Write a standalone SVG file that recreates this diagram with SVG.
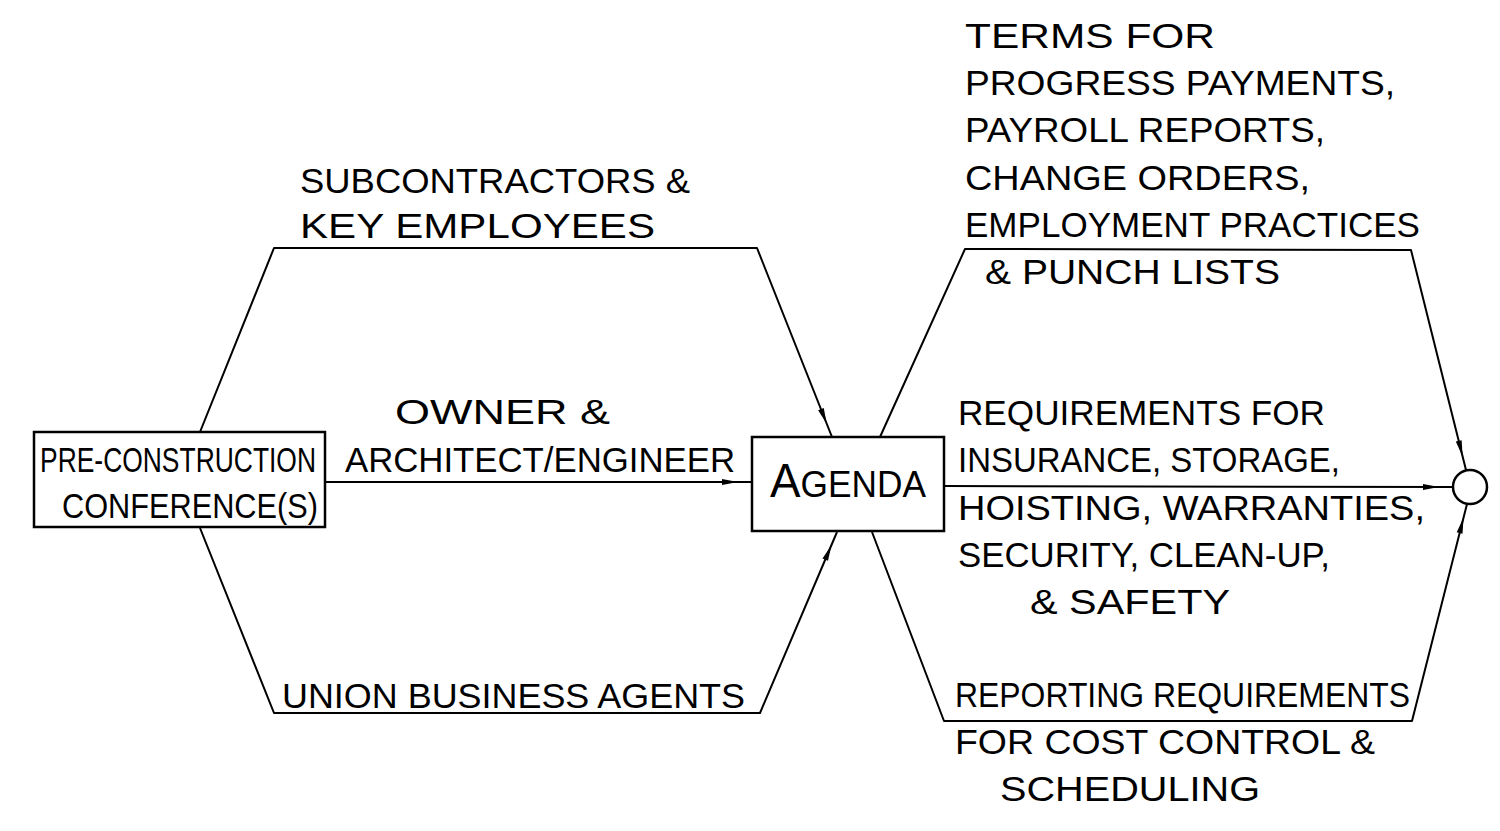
<svg xmlns="http://www.w3.org/2000/svg" width="1500" height="831" viewBox="0 0 1500 831">
<style>
  .box { fill: #fff; stroke: #000; stroke-width: 2.5; }
  .ln { fill: none; stroke: #000; stroke-width: 2; stroke-linejoin: round; }
  .t { font-family: "Liberation Sans", Arial, sans-serif; font-size: 35px; fill: #000; }
  .tb { font-family: "Liberation Sans", Arial, sans-serif; font-size: 27px; fill: #000; }
</style>
<defs>
  <marker id="arr" markerUnits="userSpaceOnUse" viewBox="0 0 60 10" markerWidth="60" markerHeight="10" refX="30" refY="5" orient="auto" overflow="visible">
    <path d="M0,2 L16,5 L0,8 Z" fill="#000"/>
  </marker>
</defs>
<rect width="1500" height="831" fill="#fff"/>
<g id="connectors">
  <path class="ln" d="M200,432 L274,248 L757,248 L832,437" marker-end="url(#arr)"/>
  <path class="ln" d="M326,482 L752,482" marker-end="url(#arr)"/>
  <path class="ln" d="M200,528 L274,713 L760,713 L837,532" marker-end="url(#arr)"/>
  <path class="ln" d="M880,437 L965,249 L1411,250 L1466,470" marker-end="url(#arr)"/>
  <path class="ln" d="M945,486 L1453,487" marker-end="url(#arr)"/>
  <path class="ln" d="M872,532 L944,721 L1412,721 L1467,504" marker-end="url(#arr)"/>
</g>
<g id="node-preconstruction">
  <rect class="box" x="34" y="432" width="291" height="95"/>
  <text class="tb" transform="translate(40,472) scale(1,1.32)" x="0" y="0" textLength="276" lengthAdjust="spacingAndGlyphs">PRE-CONSTRUCTION</text>
  <text class="tb" transform="translate(62,518) scale(1,1.32)" x="0" y="0" textLength="256" lengthAdjust="spacingAndGlyphs">CONFERENCE(S)</text>
</g>
<g id="node-agenda">
  <rect class="box" x="752" y="437" width="192" height="94"/>
  <text class="t" x="770" y="497" textLength="156" lengthAdjust="spacingAndGlyphs"><tspan font-size="48">A</tspan><tspan font-size="37">GENDA</tspan></text>
</g>
<g id="node-end">
  <circle cx="1470" cy="487" r="17" fill="#fff" stroke="#000" stroke-width="2.5"/>
</g>
<g id="labels-left">
  <text class="t" x="300" y="193" textLength="390" lengthAdjust="spacingAndGlyphs">SUBCONTRACTORS &amp;</text>
  <text class="t" x="300" y="238" textLength="355" lengthAdjust="spacingAndGlyphs">KEY EMPLOYEES</text>
  <text class="t" x="395" y="424" textLength="215" lengthAdjust="spacingAndGlyphs">OWNER &amp;</text>
  <text class="t" x="345" y="472" textLength="390" lengthAdjust="spacingAndGlyphs">ARCHITECT/ENGINEER</text>
  <text class="t" x="282" y="708" textLength="463" lengthAdjust="spacingAndGlyphs">UNION BUSINESS AGENTS</text>
</g>
<g id="labels-right">
  <text class="t" x="965" y="48" textLength="250" lengthAdjust="spacingAndGlyphs">TERMS FOR</text>
  <text class="t" x="965" y="95" textLength="430" lengthAdjust="spacingAndGlyphs">PROGRESS PAYMENTS,</text>
  <text class="t" x="965" y="142" textLength="360" lengthAdjust="spacingAndGlyphs">PAYROLL REPORTS,</text>
  <text class="t" x="965" y="190" textLength="345" lengthAdjust="spacingAndGlyphs">CHANGE ORDERS,</text>
  <text class="t" x="965" y="237" textLength="455" lengthAdjust="spacingAndGlyphs">EMPLOYMENT PRACTICES</text>
  <text class="t" x="985" y="284" textLength="295" lengthAdjust="spacingAndGlyphs">&amp; PUNCH LISTS</text>
  <text class="t" x="958" y="425" textLength="367" lengthAdjust="spacingAndGlyphs">REQUIREMENTS FOR</text>
  <text class="t" x="958" y="472" textLength="382" lengthAdjust="spacingAndGlyphs">INSURANCE, STORAGE,</text>
  <text class="t" x="958" y="520" textLength="467" lengthAdjust="spacingAndGlyphs">HOISTING, WARRANTIES,</text>
  <text class="t" x="958" y="567" textLength="372" lengthAdjust="spacingAndGlyphs">SECURITY, CLEAN-UP,</text>
  <text class="t" x="1030" y="614" textLength="200" lengthAdjust="spacingAndGlyphs">&amp; SAFETY</text>
  <text class="t" x="955" y="707" textLength="455" lengthAdjust="spacingAndGlyphs">REPORTING REQUIREMENTS</text>
  <text class="t" x="955" y="754" textLength="420" lengthAdjust="spacingAndGlyphs">FOR COST CONTROL &amp;</text>
  <text class="t" x="1000" y="801" textLength="260" lengthAdjust="spacingAndGlyphs">SCHEDULING</text>
</g>
</svg>
